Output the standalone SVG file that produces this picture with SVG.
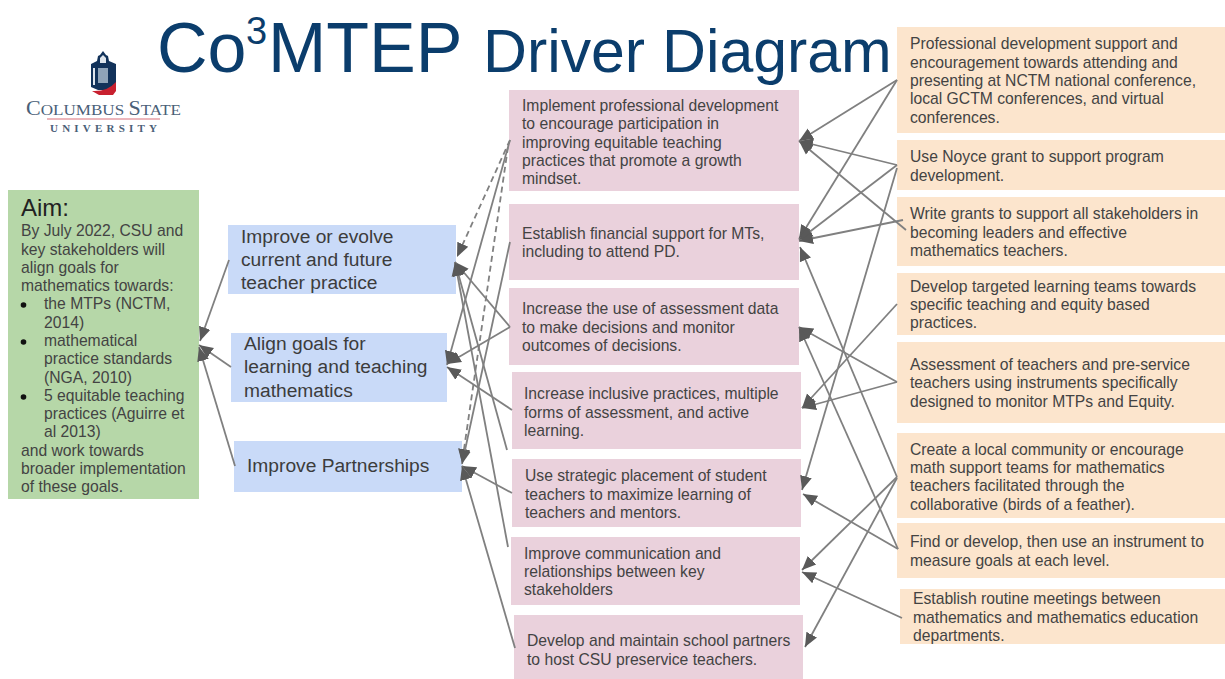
<svg xmlns="http://www.w3.org/2000/svg" width="1225" height="679" viewBox="0 0 1225 679">
<style>
text{font-family:"Liberation Sans",Arial,sans-serif}
.t{font-size:15.7px;fill:#434343}
.b{font-size:19.2px;fill:#3c3c3c}
.title{fill:#0b3d6c}
.g{fill:#b6d7a8}.bl{fill:#c9daf8}.p{fill:#ead1dc}.o{fill:#fce5cd}
.c{fill:none;stroke:#808080;stroke-width:1.8;marker-end:url(#ah)}
.d{stroke-dasharray:6 4}
.logo{font-family:"Liberation Serif",serif;fill:#4a6078}
</style>
<defs>
<marker id="ah" markerUnits="userSpaceOnUse" markerWidth="15" markerHeight="14" refX="14" refY="7" orient="auto"><path d="M0,1L14,7L0,13z" fill="#595959"/></marker>
</defs>
<rect width="1225" height="679" fill="#fff"/>
<g id="title"><text class="title" x="157" y="72" font-size="70">Co</text><text class="title" x="246" y="44" font-size="38">3</text><text class="title" x="268" y="72" font-size="70">MTEP</text><text class="title" x="483" y="72" font-size="60.800">Driver Diagram</text></g>
<g id="logo">
<path d="M98,56L100,55L103,51L106,55L108,56L109,61L116,64V86L110,90H98L91,87V64L97,61z" fill="#12325a"/>
<path d="M100,58L103,55L106,58L106,63H100z" fill="#dfe5ec"/>
<rect x="98" y="68" width="10" height="15" fill="#8fa3b8"/>
<rect x="93" y="68" width="2" height="17" fill="#dfe5ec"/>
<path d="M92,91Q107,92 116,82V91L113,95H99z" fill="#c8202f"/>
<text class="logo" x="26" y="115" font-size="15.500" textLength="155" lengthAdjust="spacingAndGlyphs"><tspan font-size="20">C</tspan>OLUMBUS <tspan font-size="20">S</tspan>TATE</text>
<rect x="47" y="118.500" width="113" height="1" fill="#d9707a"/>
<text class="logo" x="50" y="132" font-size="11" font-weight="bold" textLength="107">UNIVERSITY</text>
</g>
<g id="aim"><rect class="g" x="8" y="190" width="191" height="309"/>
<text x="21" y="216" font-size="24" fill="#222">Aim:</text>
<text class="t"><tspan x="21" y="236">By July 2022, CSU and</tspan><tspan x="21" y="254.500">key stakeholders will</tspan><tspan x="21" y="273">align goals for</tspan><tspan x="21" y="291">mathematics towards:</tspan><tspan x="44" y="309">the MTPs (NCTM,</tspan><tspan x="44" y="327.500">2014)</tspan><tspan x="44" y="346">mathematical</tspan><tspan x="44" y="364">practice standards</tspan><tspan x="44" y="382.500">(NGA, 2010)</tspan><tspan x="44" y="401">5 equitable teaching</tspan><tspan x="44" y="419">practices (Aguirre et</tspan><tspan x="44" y="437">al 2013)</tspan><tspan x="21" y="455.500">and work towards</tspan><tspan x="21" y="474">broader implementation</tspan><tspan x="21" y="492">of these goals.</tspan></text>
<circle cx="23.500" cy="305" r="2.800" fill="#111"/><circle cx="23.500" cy="342" r="2.800" fill="#111"/><circle cx="23.500" cy="397" r="2.800" fill="#111"/></g>
<g id="d1"><rect class="bl" x="228" y="225" width="228" height="69"/><text class="b"><tspan x="241" y="242.500">Improve or evolve</tspan><tspan x="241" y="265.500">current and future</tspan><tspan x="241" y="289">teacher practice</tspan></text></g>
<g id="d2"><rect class="bl" x="231" y="333" width="216" height="69"/><text class="b"><tspan x="244" y="350">Align goals for</tspan><tspan x="244" y="373">learning and teaching</tspan><tspan x="244" y="396.500">mathematics</tspan></text></g>
<g id="d3"><rect class="bl" x="234" y="441" width="228" height="51"/><text class="b"><tspan x="247" y="472">Improve Partnerships</tspan></text></g>
<g id="p1"><rect class="p" x="509" y="90" width="290" height="101"/><text class="t"><tspan x="522" y="110.500">Implement professional development</tspan><tspan x="522" y="129">to encourage participation in</tspan><tspan x="522" y="147.500">improving equitable teaching</tspan><tspan x="522" y="165.500">practices that promote a growth</tspan><tspan x="522" y="184">mindset.</tspan></text></g>
<g id="p2"><rect class="p" x="509" y="204" width="290" height="76"/><text class="t"><tspan x="522" y="238.500">Establish financial support for MTs,</tspan><tspan x="522" y="257">including to attend PD.</tspan></text></g>
<g id="p3"><rect class="p" x="509" y="288" width="290" height="77"/><text class="t"><tspan x="522" y="314">Increase the use of assessment data</tspan><tspan x="522" y="332.500">to make decisions and monitor</tspan><tspan x="522" y="351">outcomes of decisions.</tspan></text></g>
<g id="p4"><rect class="p" x="512" y="372" width="289" height="77"/><text class="t"><tspan x="524" y="399">Increase inclusive practices, multiple</tspan><tspan x="524" y="417.500">forms of assessment, and active</tspan><tspan x="524" y="435.500">learning.</tspan></text></g>
<g id="p5"><rect class="p" x="512" y="459" width="289" height="68"/><text class="t"><tspan x="525" y="481">Use strategic placement of student</tspan><tspan x="525" y="499.500">teachers to maximize learning of</tspan><tspan x="525" y="518">teachers and mentors.</tspan></text></g>
<g id="p6"><rect class="p" x="511" y="537" width="289" height="68"/><text class="t"><tspan x="524" y="558.500">Improve communication and</tspan><tspan x="524" y="577">relationships between key</tspan><tspan x="524" y="595">stakeholders</tspan></text></g>
<g id="p7"><rect class="p" x="514" y="615" width="289" height="64"/><text class="t"><tspan x="527" y="646">Develop and maintain school partners</tspan><tspan x="527" y="664.500">to host CSU preservice teachers.</tspan></text></g>
<g id="o1"><rect class="o" x="897" y="27" width="328" height="106"/><text class="t"><tspan x="910" y="49">Professional development support and</tspan><tspan x="910" y="67.500">encouragement towards attending and</tspan><tspan x="910" y="86">presenting at NCTM national conference,</tspan><tspan x="910" y="104">local GCTM conferences, and virtual</tspan><tspan x="910" y="123">conferences.</tspan></text></g>
<g id="o2"><rect class="o" x="897" y="140" width="328" height="50"/><text class="t"><tspan x="910" y="162">Use Noyce grant to support program</tspan><tspan x="910" y="180.500">development.</tspan></text></g>
<g id="o3"><rect class="o" x="897" y="197" width="328" height="69"/><text class="t"><tspan x="910" y="219">Write grants to support all stakeholders in</tspan><tspan x="910" y="237.500">becoming leaders and effective</tspan><tspan x="910" y="256">mathematics teachers.</tspan></text></g>
<g id="o4"><rect class="o" x="897" y="273" width="328" height="62"/><text class="t"><tspan x="910" y="291.500">Develop targeted learning teams towards</tspan><tspan x="910" y="310">specific teaching and equity based</tspan><tspan x="910" y="328">practices.</tspan></text></g>
<g id="o5"><rect class="o" x="897" y="342" width="328" height="81"/><text class="t"><tspan x="910" y="370">Assessment of teachers and pre-service</tspan><tspan x="910" y="388">teachers using instruments specifically</tspan><tspan x="910" y="406.500">designed to monitor MTPs and Equity.</tspan></text></g>
<g id="o6"><rect class="o" x="897" y="433" width="328" height="85"/><text class="t"><tspan x="910" y="454.500">Create a local community or encourage</tspan><tspan x="910" y="473">math support teams for mathematics</tspan><tspan x="910" y="491">teachers facilitated through the</tspan><tspan x="910" y="509.500">collaborative (birds of a feather).</tspan></text></g>
<g id="o7"><rect class="o" x="897" y="523" width="328" height="55"/><text class="t"><tspan x="910" y="547">Find or develop, then use an instrument to</tspan><tspan x="910" y="565.500">measure goals at each level.</tspan></text></g>
<g id="o8"><rect class="o" x="900" y="589" width="325" height="55"/><text class="t"><tspan x="913" y="604">Establish routine meetings between</tspan><tspan x="913" y="622.500">mathematics and mathematics education</tspan><tspan x="913" y="641">departments.</tspan></text></g>
<g id="connectors">
<path class="c" d="M229,260L200,341"/>
<path class="c" d="M231,367L199,345"/>
<path class="c" d="M235,466L199,347"/>
<path class="c d" d="M510,140L457,257"/>
<path class="c" d="M510,140L447,365"/>
<path class="c d" d="M508,147L462,463"/>
<path class="c" d="M510,242L462,464"/>
<path class="c" d="M510,327L455,262"/>
<path class="c" d="M510,327L447,364"/>
<path class="c" d="M512,410L447,367"/>
<path class="c" d="M507,450L455,262"/>
<path class="c" d="M508,547L455,262"/>
<path class="c" d="M512,493L462,466"/>
<path class="c" d="M515,648L462,466"/>
<path class="c" d="M897,80L799,141"/>
<path class="c" d="M897,165L799,141"/>
<path class="c" d="M906,230L799,141"/>
<path class="c" d="M897,80L799,239"/>
<path class="c" d="M897,165L799,240"/>
<path class="c" d="M903,220L799,241"/>
<path class="c" d="M897,477L800,247"/>
<path class="c" d="M898,549L799,327"/>
<path class="c" d="M897,382L799,327"/>
<path class="c" d="M897,304L802,408"/>
<path class="c" d="M897,382L802,408"/>
<path class="c" d="M897,168L802,490"/>
<path class="c" d="M898,549L803,494"/>
<path class="c" d="M897,477L802,570"/>
<path class="c" d="M902,618L802,572"/>
<path class="c" d="M897,478L805,647"/>
</g>
</svg>
